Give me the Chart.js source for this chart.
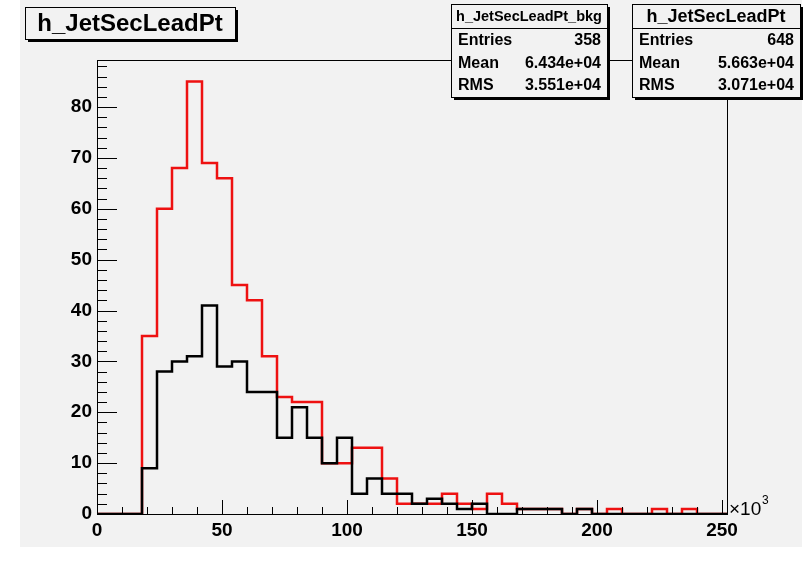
<!DOCTYPE html>
<html>
<head>
<meta charset="utf-8">
<style>
  html, body { margin: 0; padding: 0; background: #fff; }
  #wrap { width: 810px; height: 563px; }
</style>
</head>
<body>
<div id="wrap"><canvas id="histo"></canvas></div>
<script src="https://cdn.jsdelivr.net/npm/chart.js@4.4.1/dist/chart.umd.min.js"></script>
<script>
// bins of 6 (x10^3), axis 0..252
const binWidth = 6;
const xMin = 0, xMax = 252;
const yMax = 89.25;

// h_JetSecLeadPt (red)
const sigCounts = [0, 0, 0, 35, 60, 68, 85, 69, 66, 45, 42, 31, 23, 22, 22, 10, 10, 13, 13, 7, 2,
                   2, 2, 4, 2, 1, 4, 2, 1, 1, 1, 0, 1, 0, 1, 0, 0, 1, 0, 1, 0, 0];
// h_JetSecLeadPt_bkg (black)
const bkgCounts = [0, 0, 0, 9, 28, 30, 31, 41, 29, 30, 24, 24, 15, 21, 15, 10, 15, 4, 7, 4, 4,
                   2, 3, 2, 1, 2, 0, 0, 1, 1, 1, 0, 1, 0, 0, 0, 0, 0, 0, 0, 0, 0];

const xTickLabels = [0, 50, 100, 150, 200, 250];
const yTickLabels = [0, 10, 20, 30, 40, 50, 60, 70, 80];

const sigStats = { name: 'h_JetSecLeadPt', entries: '648', mean: '5.663e+04', rms: '3.071e+04' };
const bkgStats = { name: 'h_JetSecLeadPt_bkg', entries: '358', mean: '6.434e+04', rms: '3.551e+04' };

function toSteps(counts) {
  const pts = counts.map((v, i) => ({ x: xMin + i * binWidth, y: v }));
  pts.push({ x: xMin + counts.length * binWidth, y: counts[counts.length - 1] });
  return pts;
}

const FONT = 'Liberation Sans, Arial, Helvetica, sans-serif';
const BG = '#f2f2f2';

function statBox(ctx, s, x, y, w, h, headSize) {
  ctx.fillStyle = '#000';
  ctx.fillRect(x + 3, y + 3, w, h);
  ctx.fillStyle = BG;
  ctx.fillRect(x, y, w, h);
  ctx.strokeStyle = '#000';
  ctx.lineWidth = 1;
  ctx.strokeRect(x + 0.5, y + 0.5, w, h);
  ctx.beginPath();
  ctx.moveTo(x, y + 24.5);
  ctx.lineTo(x + w, y + 24.5);
  ctx.stroke();
  ctx.fillStyle = '#000';
  ctx.textBaseline = 'middle';
  ctx.textAlign = 'center';
  ctx.font = 'bold ' + headSize + 'px ' + FONT;
  ctx.fillText(s.name, x + w / 2, y + 13);
  ctx.font = 'bold 16px ' + FONT;
  const rows = [['Entries', s.entries], ['Mean', s.mean], ['RMS', s.rms]];
  rows.forEach((r, i) => {
    const yy = y + 37 + i * 22.5;
    ctx.textAlign = 'left';
    ctx.fillText(r[0], x + 7, yy);
    ctx.textAlign = 'right';
    ctx.fillText(r[1], x + w - 6, yy);
  });
}

const rootLook = {
  id: 'rootLook',
  beforeDraw(chart) {
    const ctx = chart.ctx;
    ctx.save();
    ctx.fillStyle = '#fff';
    ctx.fillRect(0, 0, chart.width, chart.height);
    ctx.fillStyle = BG;
    ctx.fillRect(20, 0, 782, 547);
    ctx.restore();
  },
  afterDatasetsDraw(chart) {
    const ctx = chart.ctx;
    const a = chart.chartArea;
    const xs = chart.scales.x, ys = chart.scales.y;
    ctx.save();
    ctx.strokeStyle = '#000';
    ctx.lineWidth = 1;
    ctx.strokeRect(Math.round(a.left) + 0.5, Math.round(a.top) + 0.5,
                   Math.round(a.right - a.left), Math.round(a.bottom - a.top));
    ctx.beginPath();
    // x ticks, inside the frame
    for (let v = 0; v <= 250; v += 10) {
      const px = Math.round(xs.getPixelForValue(v)) + 0.5;
      const len = (v % 50 === 0) ? 14 : 7;
      ctx.moveTo(px, a.bottom);
      ctx.lineTo(px, a.bottom - len);
    }
    // y ticks
    for (let v = 0; v <= 88; v += 2) {
      const py = Math.round(ys.getPixelForValue(v)) + 0.5;
      const len = (v % 10 === 0) ? 20 : 10;
      ctx.moveTo(a.left, py);
      ctx.lineTo(a.left + len, py);
    }
    ctx.stroke();
    ctx.restore();
  },
  afterDraw(chart) {
    const ctx = chart.ctx;
    const a = chart.chartArea;
    ctx.save();
    // title box
    ctx.fillStyle = '#000';
    ctx.fillRect(28, 10, 210, 32);
    ctx.fillStyle = BG;
    ctx.fillRect(25, 7, 210, 32);
    ctx.strokeStyle = '#000';
    ctx.lineWidth = 1;
    ctx.strokeRect(25.5, 7.5, 210, 32);
    ctx.fillStyle = '#000';
    ctx.font = 'bold 24px ' + FONT;
    ctx.textAlign = 'center';
    ctx.textBaseline = 'middle';
    ctx.fillText('h_JetSecLeadPt', 130, 24);

    statBox(ctx, bkgStats, 451, 4, 156, 93, 14.5);
    statBox(ctx, sigStats, 632, 4, 168, 93, 18);

    // x10^3
    ctx.textAlign = 'left';
    ctx.textBaseline = 'alphabetic';
    ctx.font = '19px ' + FONT;
    ctx.fillText('\u00d710', a.right + 2, a.bottom + 1);
    ctx.font = '12px ' + FONT;
    ctx.fillText('3', a.right + 35, a.bottom - 10);
    ctx.restore();
  }
};

new Chart(document.getElementById('histo'), {
  type: 'line',
  data: {
    datasets: [
      {
        label: bkgStats.name,
        data: toSteps(bkgCounts),
        stepped: 'before',
        borderColor: '#000000',
        borderWidth: 2.5,
        pointRadius: 0,
        fill: false,
        order: 0
      },
      {
        label: sigStats.name,
        data: toSteps(sigCounts),
        stepped: 'before',
        borderColor: '#ee1111',
        borderWidth: 2.5,
        pointRadius: 0,
        fill: false,
        order: 1
      }
    ]
  },
  options: {
    responsive: true,
    maintainAspectRatio: false,
    animation: false,
    layout: { padding: { left: 0, top: 60, right: 83, bottom: 0 } },
    plugins: { legend: { display: false }, tooltip: { enabled: false }, title: { display: false } },
    scales: {
      x: {
        type: 'linear',
        min: xMin,
        max: xMax,
        grid: { display: false, drawTicks: false },
        border: { display: false },
        afterBuildTicks: (s) => { s.ticks = xTickLabels.map(v => ({ value: v })); },
        afterFit: (s) => { s.height = 49; },
        ticks: {
          autoSkip: false,
          maxRotation: 0,
          padding: 5,
          color: '#000',
          font: { family: FONT, size: 19, weight: 'bold' }
        }
      },
      y: {
        type: 'linear',
        min: 0,
        max: yMax,
        grid: { display: false, drawTicks: false },
        border: { display: false },
        afterBuildTicks: (s) => { s.ticks = yTickLabels.map(v => ({ value: v })); },
        afterFit: (s) => { s.width = 97; },
        ticks: {
          autoSkip: false,
          padding: 5,
          color: '#000',
          font: { family: FONT, size: 19, weight: 'bold' }
        }
      }
    }
  },
  plugins: [rootLook]
});
</script>
</body>
</html>
